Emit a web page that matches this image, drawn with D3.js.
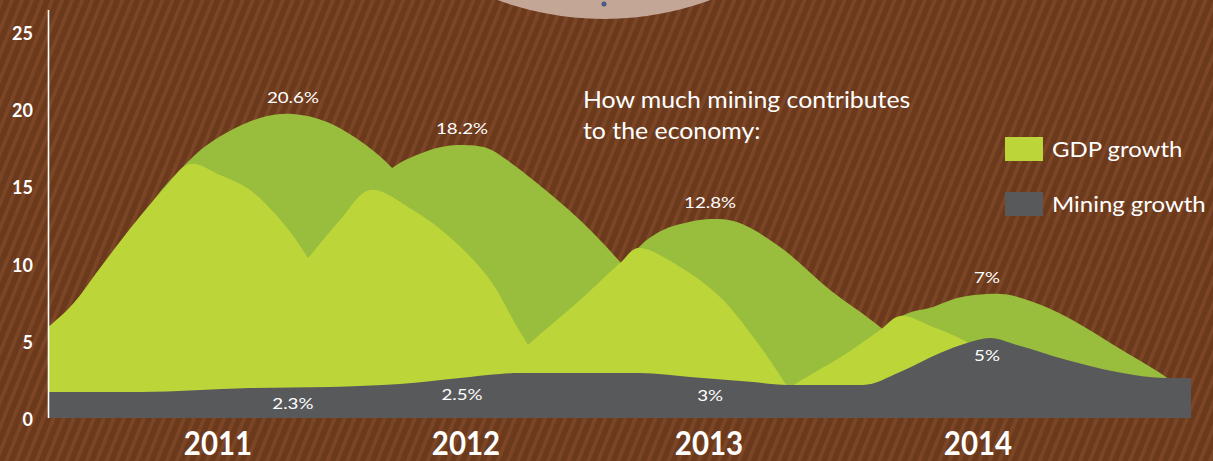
<!DOCTYPE html>
<html>
<head>
<meta charset="utf-8">
<script src="https://cdn.jsdelivr.net/npm/d3@7"></script>
<style>
	html, body { margin: 0; padding: 0; background: #6c3a1e; }
	svg { display: block; font-family: Lato, "Open Sans", sans-serif; }
</style>
</head>
<body>
<svg id="chart" width="1213" height="461"></svg>
<script>
// values, points are [year, %]
const yTicks = [0, 5, 10, 15, 20, 25];
const years = [2011, 2012, 2013, 2014];
const gdpLabels = ['20.6%', '18.2%', '12.8%', '7%'];
const miningLabels = ['2.3%', '2.5%', '3%', '5%'];
const legendItems = ['GDP growth', 'Mining growth'];
const noteLines = ['How much mining contributes', 'to the economy:'];

// darker green hills (behind)
const gdpBack1 = [[2010.535, 8.61], [2010.732, 13.80], [2010.831, 15.74], [2010.968, 17.81], [2011.169, 19.43], [2011.302, 19.69],
	[2011.440, 19.17], [2011.585, 17.81], [2011.702, 16.19], [2011.855, 13.15], [2012.016, 8.94], [2012.140, 5.05]];
const gdpBack2 = [[2011.452, 10.88], [2011.573, 13.80], [2011.702, 16.19], [2011.855, 17.36], [2011.923, 17.62], [2011.984, 17.68],
	[2012.086, 17.49], [2012.169, 16.71], [2012.292, 15.22], [2012.469, 12.82], [2012.634, 10.10], [2012.757, 7.64], [2012.881, 4.73]];
const gdpBack3 = [[2012.551, 6.99], [2012.708, 11.01], [2012.811, 12.18], [2012.901, 12.63], [2013.004, 12.89], [2013.104, 12.69],
	[2013.264, 11.08], [2013.450, 8.29], [2013.636, 5.89], [2013.784, 3.43], [2013.896, 1.17]];
const gdpBack4 = [[2013.487, 2.46], [2013.710, 6.54], [2013.833, 7.19], [2013.922, 7.77], [2014.034, 8.03], [2014.109, 8.00],
	[2014.207, 7.51], [2014.334, 6.54], [2014.522, 4.60], [2014.684, 2.91], [2014.796, 1.49]];

// light green hills (front)
const gdpFront1 = [[2010.259, 4.92], [2010.417, 7.19], [2010.535, 9.72], [2010.665, 12.50], [2010.783, 14.77], [2010.890, 16.45],
	[2011.008, 15.74], [2011.129, 14.77], [2011.262, 12.63], [2011.363, 10.36], [2011.492, 6.67], [2011.613, 2.46], [2011.694, 0]];
const gdpFront2 = [[2011.089, 5.38], [2011.363, 10.36], [2011.492, 12.82], [2011.613, 14.77], [2011.786, 13.47], [2011.948, 11.53],
	[2012.099, 8.94], [2012.210, 5.89], [2012.255, 4.73], [2012.325, 2.46], [2012.387, 0]];
const gdpFront3 = [[2012.058, 1.81], [2012.255, 4.73], [2012.469, 7.64], [2012.634, 10.04], [2012.708, 11.01], [2012.881, 9.78],
	[2013.041, 7.84], [2013.164, 5.25], [2013.275, 2.46], [2013.338, 0.52]];
const gdpFront4 = [[2013.227, 1.17], [2013.327, 2.27], [2013.513, 4.21], [2013.636, 5.70], [2013.710, 6.61], [2013.833, 5.89],
	[2013.959, 4.92], [2014.083, 3.43], [2014.195, 1.17]];

const mining = [[2010.330, 1.68], [2010.693, 1.68], [2011.129, 1.94], [2011.452, 2.01], [2011.734, 2.20], [2011.976, 2.59],
	[2012.140, 2.85], [2012.222, 2.91], [2012.716, 2.91], [2012.922, 2.66], [2013.164, 2.33], [2013.290, 2.14], [2013.572, 2.14],
	[2013.710, 2.98], [2013.859, 4.21], [2013.959, 4.86], [2014.045, 5.18], [2014.146, 4.73], [2014.334, 3.76], [2014.522, 2.98],
	[2014.710, 2.59], [2014.800, 2.59]];

const gdpBack = [gdpBack1, gdpBack2, gdpBack3, gdpBack4];
const gdpFront = [gdpFront1, gdpFront2, gdpFront3, gdpFront4];

const COLORS = { front: '#bcd63a', back: '#99bd3c', mining: '#58595b', text: '#ffffff' };

function stretch(sel, k) {
	sel.each(function () {
		const w = this.getComputedTextLength();
		d3.select(this).attr('textLength', w * k).attr('lengthAdjust', 'spacingAndGlyphs');
	});
}

function drawBackground(svg) {
	const defs = svg.append('defs');
	const pat = defs.append('pattern')
		.attr('id', 'stripes')
		.attr('patternUnits', 'userSpaceOnUse')
		.attr('width', 9.3).attr('height', 20)
		.attr('patternTransform', 'rotate(22)');
	pat.append('rect').attr('width', 9.3).attr('height', 20).style('fill', '#6b391c');
	pat.append('rect').attr('width', 3.8).attr('height', 20).style('fill', '#7b4526');

	defs.append('clipPath').attr('id', 'plot')
		.append('rect').attr('x', 48).attr('y', 0).attr('width', 1143).attr('height', 418);

	svg.append('rect').attr('width', 1213).attr('height', 461).style('fill', 'url(#stripes)');

	// plate peeking in from the top
	svg.append('circle').attr('cx', 604).attr('cy', -289).attr('r', 308).style('fill', '#c3a696');
	svg.append('circle').attr('cx', 604).attr('cy', 4).attr('r', 2.5).style('fill', '#4b5986');
}

function drawChart() {
	const svg = d3.select('#chart');
	drawBackground(svg);

	const x = d3.scaleLinear()
		.domain([2010.33, 2011, 2012, 2013, 2014, 2014.8])
		.range([48, 218, 466, 709, 978, 1191]);
	const y = d3.scaleLinear().domain([0, 25]).range([418, 32]);

	const hill = d3.area()
		.x(d => x(d[0]))
		.y0(y(0))
		.y1(d => y(d[1]))
		.curve(d3.curveCatmullRom.alpha(0.5));

	const flat = d3.area()
		.x(d => x(d[0]))
		.y0(y(0))
		.y1(d => y(d[1]))
		.curve(d3.curveMonotoneX);

	const plot = svg.append('g').attr('clip-path', 'url(#plot)');

	/* -------------------- hills ---------------------- */
	plot.selectAll('path.back').data(gdpBack).join('path')
		.attr('class', 'back').attr('d', hill).style('fill', COLORS.back);
	plot.selectAll('path.front').data(gdpFront).join('path')
		.attr('class', 'front').attr('d', hill).style('fill', COLORS.front);
	plot.append('path').datum(mining)
		.attr('d', flat).style('fill', COLORS.mining);

	/* -------------------- y axis ---------------------- */
	svg.append('line')
		.attr('x1', 48.5).attr('x2', 48.5).attr('y1', 10).attr('y2', y(0))
		.style('stroke', '#ffffff').style('stroke-width', 1.6);
	svg.selectAll('text.ytick').data(yTicks).join('text')
		.attr('class', 'ytick')
		.attr('x', 33).attr('y', d => y(d) + 8)
		.attr('text-anchor', 'end')
		.style('fill', COLORS.text).style('font-size', '18px').style('font-weight', 700)
		.text(d => d);

	/* -------------------- year labels ---------------------- */
	const yearText = svg.selectAll('text.year').data(years).join('text')
		.attr('class', 'year')
		.attr('x', d => x(d)).attr('y', 455)
		.attr('text-anchor', 'middle')
		.style('fill', COLORS.text).style('font-size', '32px').style('font-weight', 700)
		.text(d => d);
	stretch(yearText, 0.92);

	/* -------------------- value labels ---------------------- */
	const peaks = gdpBack.map(h => d3.greatest(h, d => d[1]));
	const bisect = d3.bisector(d => d[0]).left;
	const miningAt = t => {
		const i = Math.max(1, Math.min(mining.length - 1, bisect(mining, t)));
		const a = mining[i - 1], b = mining[i];
		return a[1] + (b[1] - a[1]) * (t - a[0]) / (b[0] - a[0]);
	};

	const gdpText = svg.selectAll('text.gdp').data(peaks).join('text')
		.attr('class', 'gdp')
		.attr('x', d => x(d[0])).attr('y', d => y(d[1]) - 11)
		.attr('text-anchor', 'middle')
		.style('fill', COLORS.text).style('font-size', '16px')
		.text((d, i) => gdpLabels[i]);
	stretch(gdpText, 1.17);

	const minText = svg.selectAll('text.mining').data(peaks).join('text')
		.attr('class', 'mining')
		.attr('x', d => x(d[0])).attr('y', d => y(miningAt(d[0])) + 22)
		.attr('text-anchor', 'middle')
		.style('fill', COLORS.text).style('font-size', '16px')
		.text((d, i) => miningLabels[i]);
	stretch(minText, 1.17);

	/* -------------------- note + legend ---------------------- */
	const note = svg.selectAll('text.note').data(noteLines).join('text')
		.attr('class', 'note')
		.attr('x', 583).attr('y', (d, i) => 108 + i * 31)
		.style('fill', COLORS.text).style('font-size', '23px')
		.text(d => d);
	stretch(note, 1.08);

	const legend = svg.selectAll('g.legend').data(legendItems).join('g')
		.attr('class', 'legend')
		.attr('transform', (d, i) => `translate(1005,${137 + i * 55})`);
	legend.append('rect')
		.attr('width', 38).attr('height', 24)
		.style('fill', (d, i) => i === 0 ? COLORS.front : COLORS.mining);
	const legendText = legend.append('text')
		.attr('x', 47).attr('y', 20)
		.style('fill', COLORS.text).style('font-size', '21px')
		.text(d => d);
	stretch(legendText, 1.14);
}

drawChart();
</script>
</body>
</html>
